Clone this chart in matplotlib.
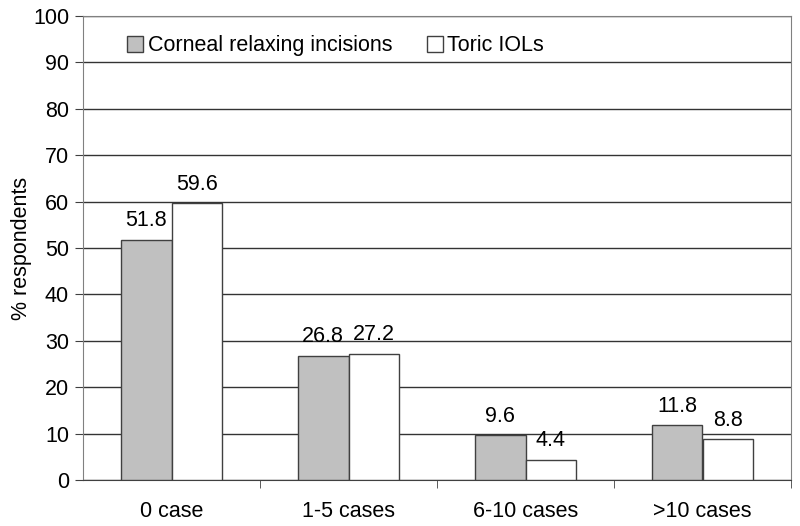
import numpy as np
import matplotlib.pyplot as plt
from matplotlib.patches import Patch

plt.rcParams['font.family'] = ['Liberation Sans', 'DejaVu Sans']

# data
categories = ["0 case", "1-5 cases", "6-10 cases", ">10 cases"]
corneal = [51.8, 26.8, 9.6, 11.8]
toric = [59.6, 27.2, 4.4, 8.8]

fs = 15.5

fig = plt.figure(figsize=(8, 5.26), dpi=100)
ax = fig.add_axes([83 / 800, 1 - 480 / 526, (791 - 83) / 800, (480 - 16) / 526])

x = np.arange(len(categories))
w = 0.288
ax.bar(x - w / 2, corneal, w, color='#c0c0c0', edgecolor='#404040', linewidth=1, zorder=3)
ax.bar(x + w / 2, toric, w, color='white', edgecolor='#404040', linewidth=1, zorder=3)

for i in range(len(categories)):
    ax.text(x[i] - w / 2, corneal[i] + 1.8, f"{corneal[i]:.1f}", ha='center', va='bottom', fontsize=fs)
    ax.text(x[i] + w / 2, toric[i] + 1.8, f"{toric[i]:.1f}", ha='center', va='bottom', fontsize=fs)

ax.set_xlim(-0.5, len(categories) - 0.5)
ax.set_ylim(0, 100)
ax.set_yticks(np.arange(0, 101, 10))
ax.tick_params(axis='y', labelsize=fs, length=6, color='#404040', pad=4)

ax.set_xticks(x)
ax.set_xticklabels(categories, fontsize=fs)
ax.tick_params(axis='x', length=0, pad=15)
ax.set_xticks(np.arange(0.5, len(categories) - 0.4, 1), minor=True)
ax.tick_params(axis='x', which='minor', length=6, color='#404040')

ax.grid(axis='y', color='#333333', linewidth=1, zorder=0)
for s in ['left', 'right', 'top', 'bottom']:
    ax.spines[s].set_color('#808080')
ax.spines['bottom'].set_color('#404040')

ax.set_ylabel('% respondents', fontsize=fs, labelpad=1)

handles = [Patch(facecolor='#c0c0c0', edgecolor='#404040', label='Corneal relaxing incisions'),
           Patch(facecolor='white', edgecolor='#404040', label='Toric IOLs')]
ax.legend(handles=handles, loc='upper left', bbox_to_anchor=(0.035, 1.0), ncol=2, frameon=False,
          fontsize=fs, handlelength=0.75, handleheight=0.75, handletextpad=0.2, columnspacing=1.6)

fig.savefig('out.png', dpi=100)
